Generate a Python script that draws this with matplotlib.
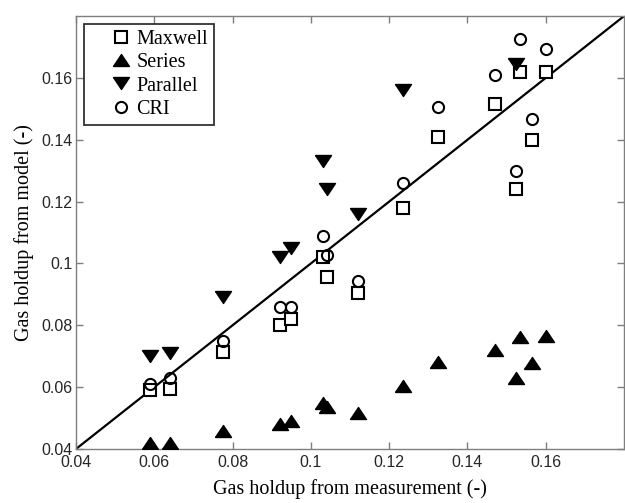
import numpy as np
import matplotlib
matplotlib.use('Agg')
import matplotlib.pyplot as plt
from matplotlib.lines import Line2D
from matplotlib.legend_handler import HandlerLine2D

# measured gas holdup (x) and model predictions (y)
measured = [0.059, 0.064, 0.0775, 0.092, 0.095, 0.103, 0.104, 0.112, 0.1235,
            0.1325, 0.147, 0.1525, 0.1535, 0.1565, 0.160]
maxwell = [0.0590, 0.0594, 0.0713, 0.0800, 0.0820, 0.1020, 0.0955, 0.0903, 0.1180,
           0.1410, 0.1516, 0.1240, 0.1620, 0.1400, 0.1620]
series = [0.0420, 0.0420, 0.0458, 0.0480, 0.0490, 0.0550, 0.0535, 0.0516, 0.0603,
          0.0680, 0.0720, 0.0630, 0.0761, 0.0678, 0.0765]
parallel = [0.0700, 0.0710, 0.0890, 0.1020, 0.1050, 0.1330, 0.1240, 0.1160, 0.1560,
            np.nan, np.nan, 0.1645, np.nan, np.nan, np.nan]
cri = [0.0610, 0.0630, 0.0750, 0.0858, 0.0858, 0.1090, 0.1026, 0.0942, 0.1260,
       0.1506, 0.1610, 0.1300, 0.1726, 0.1468, 0.1695]
parity = [0.04, 0.18]

ticks = [0.04, 0.06, 0.08, 0.1, 0.12, 0.14, 0.16]
tick_labels = ['0.04', '0.06', '0.08', '0.1', '0.12', '0.14', '0.16']

serif = 'Liberation Serif'
sans = 'Liberation Sans'

# wide, flat triangles like the original
tri_up = [(-1, -0.75), (1, -0.75), (0, 0.75), (-1, -0.75)]
tri_dn = [(-1, 0.75), (1, 0.75), (0, -0.75), (-1, 0.75)]

fig = plt.figure(figsize=(6.25, 5.03), dpi=100)
ax = fig.add_axes([0.1216, 0.1074, 0.8768, 0.8606])

ax.plot(parity, parity, color='black', linewidth=1.6, zorder=1)
ax.plot(measured, maxwell, linestyle='none', marker='s', markersize=8.5,
        markerfacecolor='white', markeredgecolor='black', markeredgewidth=1.5,
        label='Maxwell', zorder=3)
ax.plot(measured, series, linestyle='none', marker=tri_up, markersize=11.5,
        color='black', label='Series', zorder=3)
ax.plot(measured, parallel, linestyle='none', marker=tri_dn, markersize=11.5,
        color='black', label='Parallel', zorder=3)
ax.plot(measured, cri, linestyle='none', marker='o', markersize=8,
        markerfacecolor='none', markeredgecolor='black', markeredgewidth=1.5,
        label='CRI', zorder=4)

ax.set_xlim(0.04, 0.18)
ax.set_ylim(0.04, 0.18)
ax.set_xticks(ticks)
ax.set_xticklabels(tick_labels)
ax.set_yticks(ticks)
ax.set_yticklabels(tick_labels)
ax.tick_params(direction='in', top=True, right=True, length=5, width=1,
               color='#7f7f7f', labelsize=11.5, labelcolor='#262626')
ax.tick_params(axis='x', pad=4)
ax.tick_params(axis='y', pad=2.5)
for lab in ax.get_xticklabels() + ax.get_yticklabels():
    lab.set_fontfamily(sans)
for sp in ax.spines.values():
    sp.set_color('#7f7f7f')
    sp.set_linewidth(1)

ax.set_xlabel('Gas holdup from measurement (-)', fontsize=14.5, family=serif,
              labelpad=7)
ax.set_ylabel('Gas holdup from model (-)', fontsize=14.5, family=serif,
              labelpad=5)

leg = ax.legend(loc='upper left', prop={'family': serif, 'size': 14.5},
                frameon=True, fancybox=False, labelspacing=0.2,
                handletextpad=0.3, handlelength=2.0, borderpad=0.3,
                borderaxespad=0.4,
                handler_map={Line2D: HandlerLine2D(xpad=1.1)})
leg.get_frame().set_edgecolor('black')
leg.get_frame().set_linewidth(1.3)

fig.savefig('out.png', dpi=100)
